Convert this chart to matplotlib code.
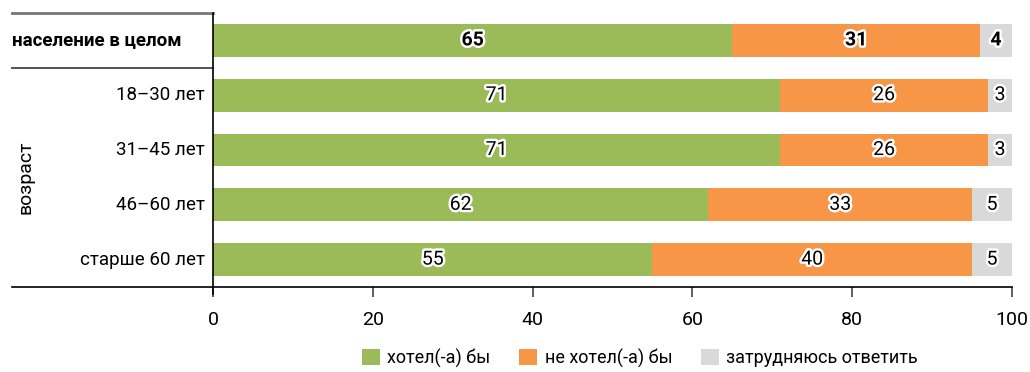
import matplotlib
matplotlib.use("Agg")
import matplotlib.pyplot as plt
import matplotlib.patheffects as pe
from matplotlib.transforms import blended_transform_factory
from matplotlib.patches import Patch

plt.rcParams['font.family'] = ['Roboto', 'DejaVu Sans']

# survey rows, top to bottom
categories = ['население в целом', '18–30 лет', '31–45 лет', '46–60 лет', 'старше 60 лет']
would = [65, 71, 71, 62, 55]
would_not = [31, 26, 26, 33, 40]
unsure = [4, 3, 3, 5, 5]

series_names = ['хотел(-а) бы', 'не хотел(-а) бы', 'затрудняюсь ответить']
colors = ['#9BBB59', '#F79646', '#D9D9D9']
xticks = [0, 20, 40, 60, 80, 100]

fig = plt.figure(figsize=(10.30, 3.72), dpi=100)
W, H = 1030, 372
ax = fig.add_axes([213 / W, 1 - 287 / H, (1012 - 213) / W, (287 - 13) / H])

y = list(range(len(categories)))
left = [0] * len(categories)
for vals, col in zip([would, would_not, unsure], colors):
    ax.barh(y, vals, left=left, height=0.6, color=col, edgecolor='none')
    for i, (l, v) in enumerate(zip(left, vals)):
        t = ax.text(l + v / 2, i, str(v), ha='center', va='center',
                    fontsize=14, fontweight='bold' if i == 0 else 'normal',
                    color='black')
        t.set_path_effects([pe.withStroke(linewidth=3.5, foreground='white')])
    left = [a + b for a, b in zip(left, vals)]

ax.set_xlim(0, 100)
ax.set_ylim(4.5, -0.5)
ax.set_xticks(xticks)
ax.tick_params(axis='x', direction='out', length=7, width=1.2, color='#444444',
               labelsize=14, pad=10)
ax.set_yticks([])
for s in ['top', 'right']:
    ax.spines[s].set_visible(False)
ax.spines['left'].set_linewidth(1.2)
ax.spines['bottom'].set_linewidth(1.2)

# row labels and divider lines to the left of the axis
tr = blended_transform_factory(fig.transFigure, ax.transData)
ax.text(12 / W, 0, categories[0], transform=tr, ha='left', va='center',
        fontsize=13.5, fontweight='bold')
for i in range(1, len(categories)):
    ax.text(205 / W, i, categories[i], transform=tr, ha='right', va='center',
            fontsize=13.5)
ax.plot([12 / W, 213 / W], [-0.5, -0.5], transform=tr, color='#777777',
        lw=2, clip_on=False)
ax.plot([12 / W, 213 / W], [0.5, 0.5], transform=tr, color='#444444',
        lw=1.3, clip_on=False)
ax.plot([12 / W, 213 / W], [4.5, 4.5], transform=tr, color='black',
        lw=1.2, clip_on=False)
ax.plot([213 / W, 213 / W], [4.5, 4.62], transform=tr, color='black',
        lw=1.2, clip_on=False)
ax.text(25 / W, 2.5, 'возраст', transform=tr, rotation=90, ha='center',
        va='center', fontsize=14)

handles = [Patch(facecolor=c, edgecolor='none') for c in colors]
fig.legend(handles, series_names, loc='center', bbox_to_anchor=(640 / W, 1 - 358 / H),
           ncol=3, frameon=False, fontsize=13, handlelength=1.0, handleheight=1.0,
           handletextpad=0.4, columnspacing=1.6)

fig.savefig('out.png', dpi=100)
